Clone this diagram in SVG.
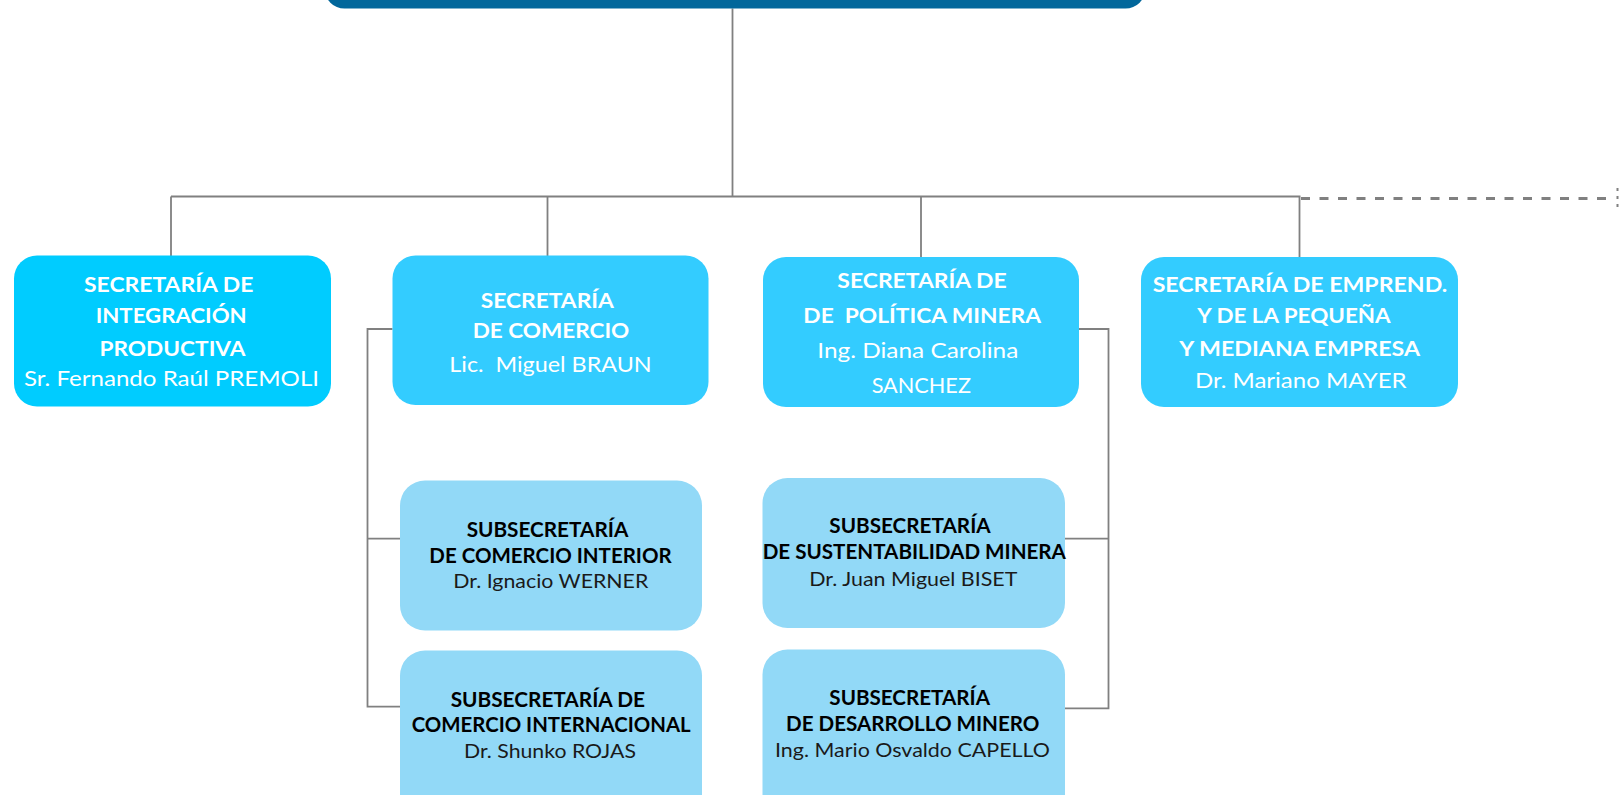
<svg xmlns="http://www.w3.org/2000/svg" width="1620" height="795" viewBox="0 0 1620 795">
<style>
  .top{fill:#02679B}
  .s1{fill:#00CCFF}
  .s2{fill:#33CCFF}
  .sub{fill:#92D9F7}
  .ln{stroke:#808080;stroke-width:1.8;fill:none}
  .dash{stroke:#808080;stroke-width:3;fill:none;stroke-dasharray:9 9.5}
  text{font-family:Lato,"Open Sans","Liberation Sans",sans-serif;text-anchor:middle;white-space:pre}
  .tw{fill:#ffffff;font-size:21px}
  .tk{fill:#000000;font-size:20px}
  .b{font-weight:bold}
  .nk{fill:#1a1a1a}
</style>
<rect width="1620" height="795" fill="#ffffff"/>
<g id="connectors">
  <path class="ln" d="M732.5 8.5V196.5M171 196.5H1300.5M171 196.5V256M547.5 196.5V256M921 196.5V257M1299.5 196.5V257"/>
  <path class="dash" d="M1301 198.5H1610"/>
  <path d="M1617.5 188V212" stroke="#808080" stroke-width="2" stroke-dasharray="3 5"/>
  <path class="ln" d="M392.5 329H367.5V706.7H400M367.5 538.7H400"/>
  <path class="ln" d="M1079 329H1108.5V708.3H1065M1108.5 538.7H1065"/>
</g>
<g id="top-node">
  <rect class="top" x="324.5" y="-60" width="821" height="68.5" rx="20"/>
</g>
<g id="sec-integracion">
  <rect class="s1" x="14" y="255.5" width="317" height="151" rx="23"/>
  <text class="tw b" x="168.7" y="292.3" textLength="169.3" lengthAdjust="spacingAndGlyphs">SECRETARÍA DE</text>
  <text class="tw b" x="171.2" y="323.3" textLength="151" lengthAdjust="spacingAndGlyphs">INTEGRACIÓN</text>
  <text class="tw b" x="172.5" y="355.7" textLength="146" lengthAdjust="spacingAndGlyphs">PRODUCTIVA</text>
  <text class="tw" x="171.5" y="386" textLength="295" lengthAdjust="spacingAndGlyphs">Sr. Fernando Raúl PREMOLI</text>
</g>
<g id="sec-comercio">
  <rect class="s2" x="392.5" y="255.5" width="316" height="149.5" rx="23"/>
  <text class="tw b" x="547.3" y="307.7" textLength="133.3" lengthAdjust="spacingAndGlyphs">SECRETARÍA</text>
  <text class="tw b" x="551" y="338.3" textLength="156.7" lengthAdjust="spacingAndGlyphs">DE COMERCIO</text>
  <text class="tw" x="550.5" y="371.7" textLength="202.3" lengthAdjust="spacingAndGlyphs">Lic.  Miguel BRAUN</text>
</g>
<g id="sec-mineria">
  <rect class="s2" x="763" y="257" width="316" height="150" rx="23"/>
  <text class="tw b" x="922" y="287.7" textLength="169.3" lengthAdjust="spacingAndGlyphs">SECRETARÍA DE</text>
  <text class="tw b" x="922.2" y="323.3" textLength="237.7" lengthAdjust="spacingAndGlyphs">DE  POLÍTICA MINERA</text>
  <text class="tw" x="917.8" y="357.7" textLength="201" lengthAdjust="spacingAndGlyphs">Ing. Diana Carolina</text>
  <text class="tw" x="921.3" y="393.3" textLength="99.3" lengthAdjust="spacingAndGlyphs">SANCHEZ</text>
</g>
<g id="sec-pyme">
  <rect class="s2" x="1141" y="257" width="317" height="150" rx="23"/>
  <text class="tw b" x="1300" y="292.3" textLength="294.7" lengthAdjust="spacingAndGlyphs">SECRETARÍA DE EMPREND.</text>
  <text class="tw b" x="1294" y="323.3" textLength="193.3" lengthAdjust="spacingAndGlyphs">Y DE LA PEQUEÑA</text>
  <text class="tw b" x="1299.7" y="355.7" textLength="240.7" lengthAdjust="spacingAndGlyphs">Y MEDIANA EMPRESA</text>
  <text class="tw" x="1300.8" y="387.7" textLength="211.7" lengthAdjust="spacingAndGlyphs">Dr. Mariano MAYER</text>
</g>
<g id="sub-comercio-interior">
  <rect class="sub" x="400" y="480.5" width="302" height="150" rx="25"/>
  <text class="tk b" x="547.5" y="537.3" textLength="161.7" lengthAdjust="spacingAndGlyphs">SUBSECRETARÍA</text>
  <text class="tk b" x="550.5" y="562.7" textLength="242.3" lengthAdjust="spacingAndGlyphs">DE COMERCIO INTERIOR</text>
  <text class="tk nk" x="550.8" y="588.3" textLength="195" lengthAdjust="spacingAndGlyphs">Dr. Ignacio WERNER</text>
</g>
<g id="sub-comercio-internacional">
  <rect class="sub" x="400" y="650.5" width="302" height="170" rx="25"/>
  <text class="tk b" x="547.8" y="706.7" textLength="194.3" lengthAdjust="spacingAndGlyphs">SUBSECRETARÍA DE</text>
  <text class="tk b" x="551.2" y="731.7" textLength="279" lengthAdjust="spacingAndGlyphs">COMERCIO INTERNACIONAL</text>
  <text class="tk nk" x="550" y="758.3" textLength="172" lengthAdjust="spacingAndGlyphs">Dr. Shunko ROJAS</text>
</g>
<g id="sub-sustentabilidad">
  <rect class="sub" x="762.5" y="478" width="302.5" height="150" rx="25"/>
  <text class="tk b" x="910" y="533.3" textLength="161.3" lengthAdjust="spacingAndGlyphs">SUBSECRETARÍA</text>
  <text class="tk b" x="914.3" y="559" textLength="303.3" lengthAdjust="spacingAndGlyphs">DE SUSTENTABILIDAD MINERA</text>
  <text class="tk nk" x="913.3" y="586" textLength="208" lengthAdjust="spacingAndGlyphs">Dr. Juan Miguel BISET</text>
</g>
<g id="sub-desarrollo">
  <rect class="sub" x="762.5" y="649.5" width="302.5" height="170" rx="25"/>
  <text class="tk b" x="909.7" y="705" textLength="160.7" lengthAdjust="spacingAndGlyphs">SUBSECRETARÍA</text>
  <text class="tk b" x="912.7" y="730.7" textLength="253.3" lengthAdjust="spacingAndGlyphs">DE DESARROLLO MINERO</text>
  <text class="tk nk" x="912.5" y="756.7" textLength="275" lengthAdjust="spacingAndGlyphs">Ing. Mario Osvaldo CAPELLO</text>
</g>
</svg>
